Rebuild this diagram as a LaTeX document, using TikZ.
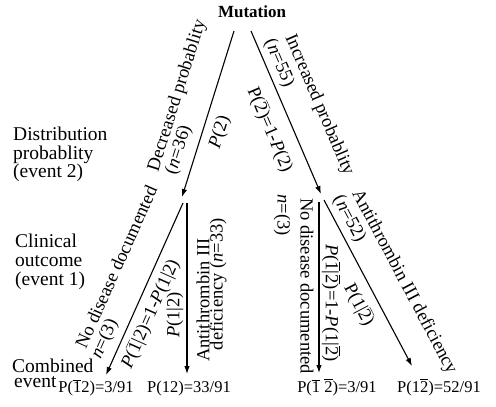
\documentclass[tikz,border=0pt]{standalone}
\usepackage{fontspec}
\setmainfont{Liberation Serif}
\usetikzlibrary{arrows.meta}
\newcommand\ob[1]{$\overline{\hbox{#1}}$}
\begin{document}
\begin{tikzpicture}[x=1pt,y=-1pt,
  arr/.style={-{Latex[length=8pt,width=5.5pt]}, line width=1.1pt},
  txt/.style={inner sep=0pt, font=\fontsize{18.5}{19}\selectfont},
  side/.style={inner sep=0pt, anchor=base west, font=\fontsize{19.5}{20}\selectfont},
  bot/.style={inner sep=0pt, anchor=base, font=\fontsize{16.5}{18}\selectfont},
]
\useasboundingbox (0,0) rectangle (496,407);

% top
\node[inner sep=0pt, anchor=base, font=\bfseries\fontsize{17}{19}\selectfont] (mut) at (252,17) {Mutation};

% connector end points
\coordinate (a1) at (234,31);  \coordinate (a2) at (182,197);
\coordinate (b1) at (251,31);  \coordinate (b2) at (321,194);
\coordinate (c1) at (183,203); \coordinate (c2) at (106,375);
\coordinate (d1) at (187,203); \coordinate (d2) at (187,374);
\coordinate (e1) at (319,202); \coordinate (e2) at (319,373);
\coordinate (f1) at (324,200); \coordinate (f2) at (412,366);

\draw[arr] (a1) -- (a2);
\draw[arr] (b1) -- (b2);
\draw[arr] (c1) -- (c2);
\draw[arr] (d1) -- (d2);
\draw[arr] (e1) -- (e2);
\draw[arr] (f1) -- (f2);

% left side titles
\node[side] (s1) at (13,140.5) {Distribution};
\node[side] (s2) at (13,159) {probablity};
\node[side] (s3) at (13,177.5) {(event 2)};
\node[side] (s4) at (15,247) {Clinical};
\node[side] (s5) at (15,266) {outcome};
\node[side] (s6) at (15,285) {(event 1)};
\node[side] (s7) at (12,372) {Combined};
\node[side] (s8) at (14,387) {event};

% first level labels
\node[txt, rotate=72.5] (l1) at (177.5,96) {Decreased probablity};
\node[txt, rotate=72.5] (l2) at (179,150) {(\textit{n}=36)};
\node[txt, rotate=72.5] (l3) at (220,132) {\textit{P}(2)};
\node[txt, rotate=-66.8] (r1) at (319,105) {Increased probablity};
\node[txt, rotate=-66.8] (r2) at (279,63) {(\textit{n}=55)};
\node[txt, rotate=-66.8] (r3) at (270,130) {P(\ob{2})=1-\textit{P}(2)};

% second level, left
\node[txt, rotate=65.9] (ll1) at (116,267) {No disease documented};
\node[txt, rotate=65.9] (ll2) at (105,339) {\textit{n}=(3)};
\node[txt, rotate=65.9] (ll3) at (150.5,314) {\textit{P}(\ob{1}|2)=1-\textit{P}(1|2)};
\node[txt, rotate=90] (lv1) at (175,315) {\textit{P}(1|2)};
\node[txt, rotate=90] (lv2) at (203,300) {Antithrombin III};
\node[txt, rotate=90] (lv3) at (218,284) {deficiency (\textit{n}=33)};

% second level, right
\node[txt, rotate=-90] (rv1) at (307,286) {No disease documented};
\node[txt, rotate=-90] (rv2) at (282,215) {\textit{n}=(3)};
\node[txt, rotate=-90] (rv3) at (331,303) {\textit{P}(\ob{1}|\ob{2})=1-\textit{P}(1|\ob{2})};
\node[txt, rotate=-62.1] (rr1) at (404,282) {Antithrombin III deficiency};
\node[txt, rotate=-62.1] (rr2) at (349,219) {(\textit{n}=52)};
\node[txt, rotate=-62.1] (rr3) at (359,305) {P(1|\ob{2})};

% combined events
\node[bot] (b1l) at (96,392) {P(\ob{1}2)=3/91};
\node[bot] (b2l) at (189,392) {P(12)=33/91};
\node[bot] (b3l) at (337,392) {P(\ob{1} \ob{2})=3/91};
\node[bot] (b4l) at (439,392) {P(1\ob{2})=52/91};
\end{tikzpicture}
\end{document}
